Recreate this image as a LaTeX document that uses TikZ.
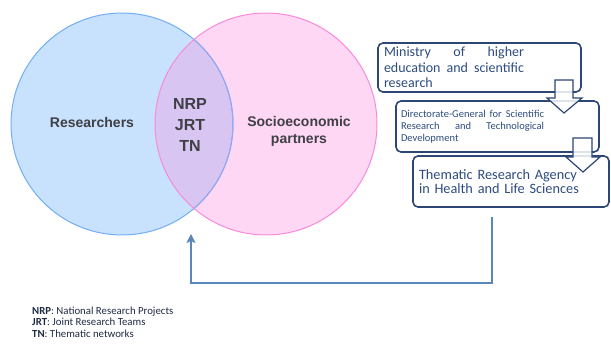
\documentclass[tikz,border=0pt]{standalone}
\usepackage{fontspec}
\setmainfont{Carlito}
\newfontfamily\headfont{Liberation Sans}
\usetikzlibrary{arrows.meta,calc}

\definecolor{bluefill}{HTML}{C8E1FC}
\definecolor{blueline}{HTML}{74AEF5}
\definecolor{pinkfill}{HTML}{FDD7F3}
\definecolor{pinkline}{HTML}{F98AD9}
\definecolor{mixfill}{HTML}{D9C5F1}
\definecolor{mixline}{HTML}{9AA6F2}
\definecolor{labelgray}{HTML}{3F3F46}
\definecolor{navy}{HTML}{2C4675}
\definecolor{boxtext}{HTML}{2E4C80}
\definecolor{connblue}{HTML}{5A86BE}
\definecolor{legendtext}{HTML}{1E2A44}

% a line spread to a given width
\newcommand{\spreadline}[2]{\leavevmode\hbox to #1{#2}}

\tikzset{
  circlabel/.style={font=\headfont\bfseries\fontsize{14}{17}\selectfont, text=labelgray, align=center, inner sep=0pt},
  boxnode/.style={draw=navy, line width=1.6pt, rounded corners=5pt, fill=white,
    inner xsep=6pt, inner ysep=0pt, align=left, text=boxtext, anchor=center},
  blockarrow/.style={draw=navy, line width=1.2pt, fill=white, fill opacity=0.85, line join=miter},
  conn/.style={draw=connblue, line width=1.6pt, -{Stealth[length=9pt,width=9pt,inset=2pt]}},
}

\begin{document}
\begin{tikzpicture}[x=1pt, y=-1pt]
\useasboundingbox (0,0) rectangle (611,347);

% Venn diagram
\coordinate (cres) at (122,124);
\coordinate (csoc) at (266,124);
\fill[bluefill] (cres) circle[radius=111];
\fill[pinkfill] (csoc) circle[radius=111];
\begin{scope}
  \clip (cres) circle[radius=111];
  \fill[mixfill] (csoc) circle[radius=111];
\end{scope}
\draw[blueline, line width=1pt] (cres) circle[radius=111];
\draw[pinkline, line width=1pt] (csoc) circle[radius=111];
\begin{scope}
  \clip (csoc) circle[radius=111];
  \draw[mixline, line width=1pt] (cres) circle[radius=111];
\end{scope}

\node[circlabel] (researchers) at (92,122) {Researchers};
\node[circlabel] (partners) at (299,131) {Socioeconomic\\partners};
\node[circlabel, font=\headfont\bfseries\fontsize{16}{21}\selectfont] (shared) at (190,125) {NRP\\JRT\\TN};

% Institutional chain
\node[boxnode, minimum width=203pt, minimum height=49pt, text width=191pt,
  font=\fontsize{14}{15.5}\selectfont] (box1) at (479.5,67.5)
  {\spreadline{140pt}{Ministry\hfill of\hfill higher}\\
   \spreadline{140pt}{education\hfill and\hfill scientific}\\
   research};
\node[boxnode, minimum width=203pt, minimum height=51pt, text width=193pt, inner xsep=5pt,
  font=\fontsize{10.5}{12}\selectfont] (box2) at (497.5,126.5)
  {\spreadline{143pt}{Directorate-General\hfill for\hfill Scientific}\\
   \spreadline{143pt}{Research\hfill and\hfill Technological}\\
   Development};
\node[boxnode, minimum width=196pt, minimum height=51pt, text width=184pt,
  font=\fontsize{14.3}{14.3}\selectfont] (box3) at (511,181.5)
  {Thematic Research Agency\\in Health and Life Sciences};

% Block arrows between the boxes
\draw[blockarrow] (555,80) -- (573,80) -- (573,98) -- (582,98) -- (564,113)
  -- (547,98) -- (555,98) -- cycle;
\draw[blockarrow] (573,138) -- (592,138) -- (592,157) -- (600,157) -- (583,172)
  -- (566,157) -- (573,157) -- cycle;

% Feedback connector
\coordinate (src) at (492,217);
\coordinate (dst) at (191,234);
\draw[conn] (src) -- (492,283) -| (dst);

% Legend
\node[anchor=north west, align=left, inner sep=0pt, text=legendtext,
  font=\fontsize{10.8}{11.6}\selectfont] (legend) at (32,306.5)
  {\textbf{NRP}: National Research Projects\\
   \textbf{JRT}: Joint Research Teams\\
   \textbf{TN}: Thematic networks};
\end{tikzpicture}
\end{document}
